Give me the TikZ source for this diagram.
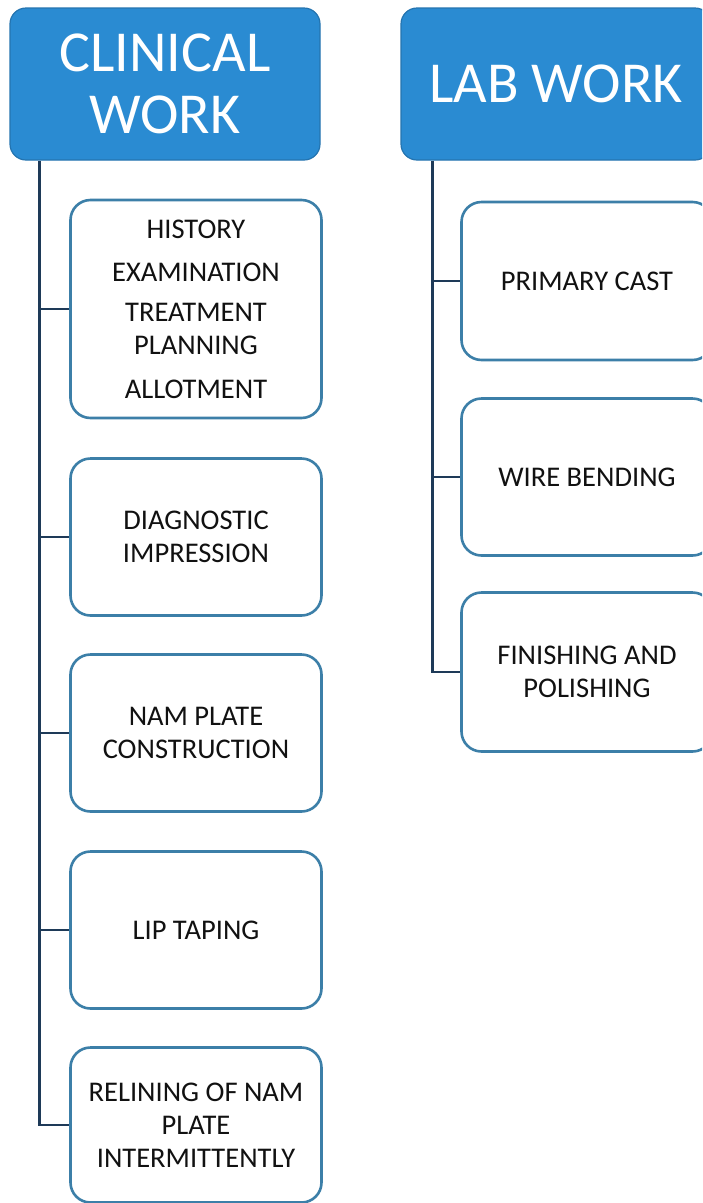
\documentclass[tikz,border=0pt]{standalone}
\usepackage{fontspec}
\setmainfont{Carlito}
\definecolor{headblue}{HTML}{2A8BD2}
\definecolor{headedge}{HTML}{2474B0}
\definecolor{boxedge}{HTML}{3C7FA8}
\definecolor{linecol}{HTML}{1E3A58}
\definecolor{txt}{HTML}{111111}
\begin{document}
\begin{tikzpicture}[x=1pt,y=-1pt,
  header/.style={draw=headedge,line width=1.2pt,fill=headblue,rounded corners=16pt,
    minimum width=310pt,minimum height=152pt,inner sep=0pt,text=white,align=center,
    font=\fontsize{58}{62}\selectfont},
  itembox/.style={draw=boxedge,line width=2.6pt,rounded corners=20pt,fill=white,
    minimum width=251pt,inner sep=0pt,text=txt,align=center,
    font=\fontsize{28.5}{33}\selectfont},
  conn/.style={draw=linecol,line width=2.4pt}]
\clip (0,0) rectangle (702,1203);
\fill[white] (0,0) rectangle (702,1203);
% headers
\node[header] (h1) at (165,84) {CLINICAL\\WORK};
\node[header] (h2) at (556,84) {LAB WORK};
% clinical boxes
\node[itembox,minimum height=218pt] (c1) at (196,309)
  {HISTORY\\[10pt]EXAMINATION\\[7pt]TREATMENT\\PLANNING\\[11pt]ALLOTMENT};
\node[itembox,minimum height=157pt] (c2) at (196,537) {DIAGNOSTIC\\IMPRESSION};
\node[itembox,minimum height=157pt] (c3) at (196,733) {NAM PLATE\\CONSTRUCTION};
\node[itembox,minimum height=157pt] (c4) at (196,930) {LIP TAPING};
\node[itembox,minimum height=155pt] (c5) at (196,1125) {RELINING OF NAM\\PLATE\\INTERMITTENTLY};
% lab boxes
\node[itembox,minimum height=158pt] (l1) at (587,281) {PRIMARY CAST};
\node[itembox,minimum height=157pt] (l2) at (587,477) {WIRE BENDING};
\node[itembox,minimum height=159pt] (l3) at (587,672) {FINISHING AND\\POLISHING};
% connectors
\coordinate (t1) at ([xshift=30pt]h1.south west);
\coordinate (t2) at ([xshift=32pt]h2.south west);
\draw[conn] (t1) |- (c5.west);
\draw[conn] (t1 |- c1.west) -- (c1.west);
\draw[conn] (t1 |- c2.west) -- (c2.west);
\draw[conn] (t1 |- c3.west) -- (c3.west);
\draw[conn] (t1 |- c4.west) -- (c4.west);
\draw[conn] (t2) |- (l3.west);
\draw[conn] (t2 |- l1.west) -- (l1.west);
\draw[conn] (t2 |- l2.west) -- (l2.west);
\end{tikzpicture}
\end{document}
